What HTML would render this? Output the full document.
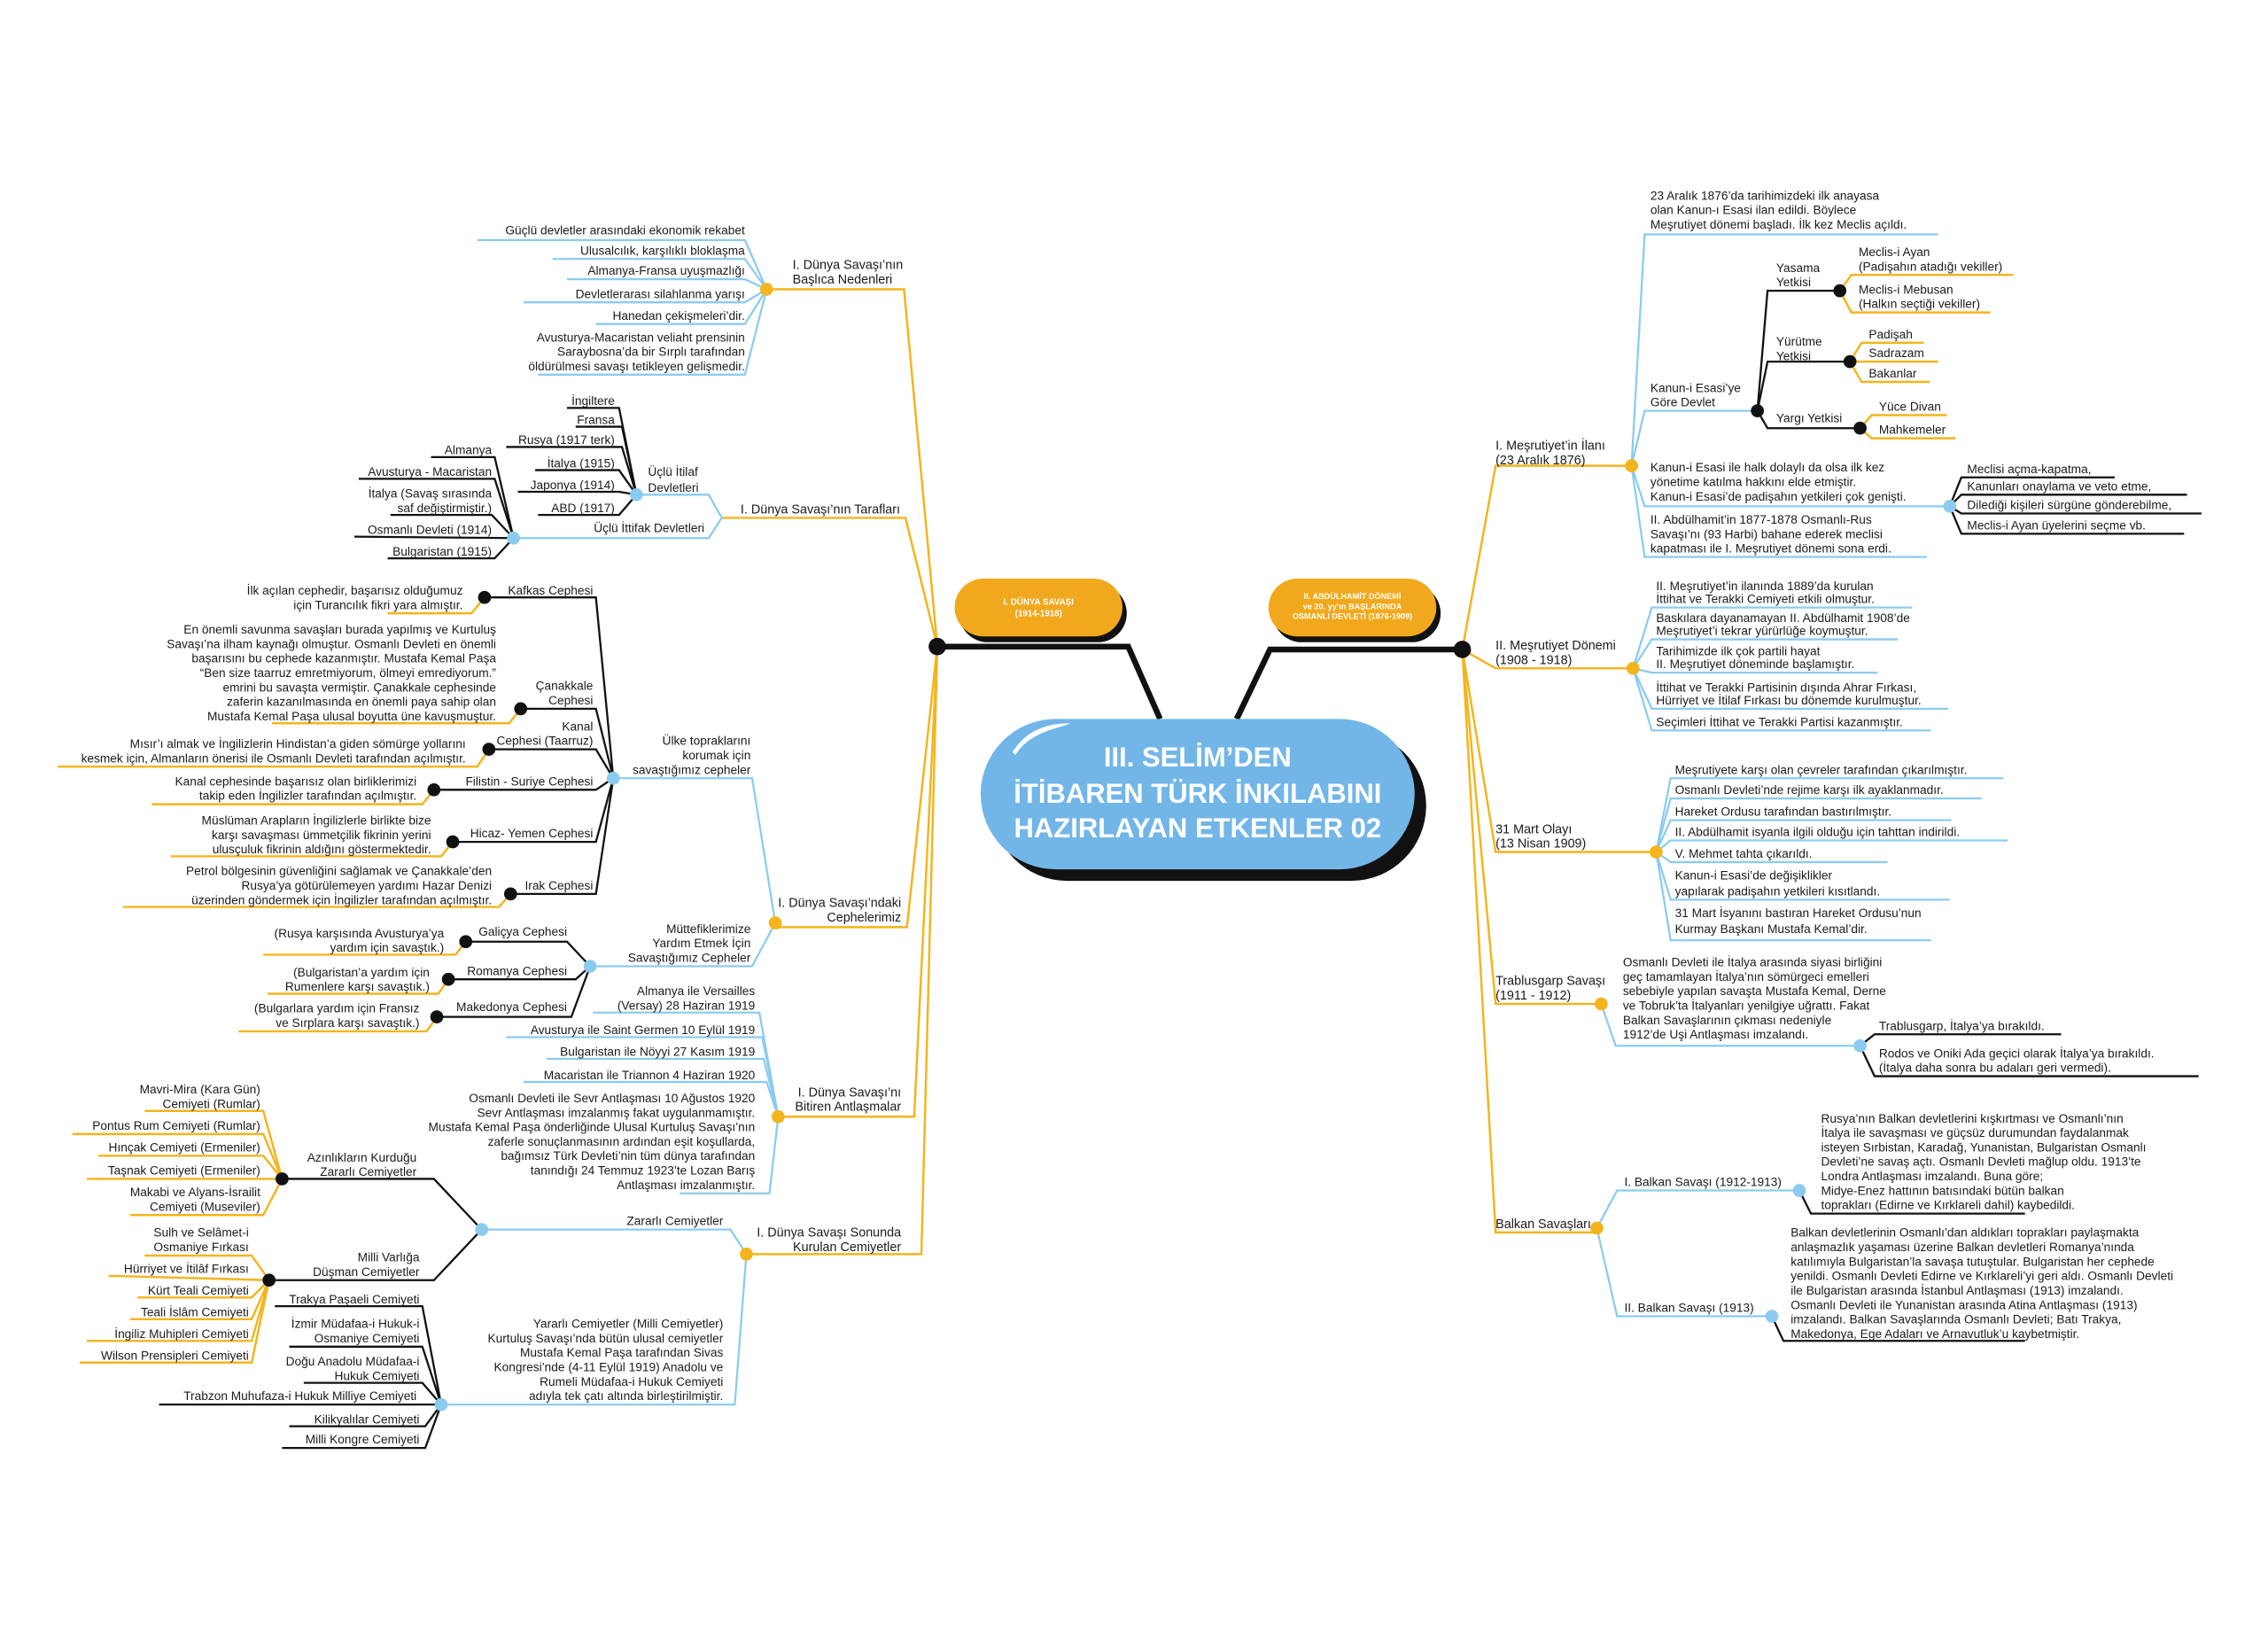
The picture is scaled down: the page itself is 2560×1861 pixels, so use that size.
<!DOCTYPE html>
<html><head><meta charset="utf-8"><style>
html,body{margin:0;padding:0;background:#fff;}
svg{display:block;}
text{font-family:"Liberation Sans",sans-serif;font-size:8.4px;fill:#1a1a1a;}
.e{text-anchor:end;}
.lb{font-size:8.8px;}
.b{fill:none;stroke:#8ccbf0;stroke-width:1.4;}
.y{fill:none;stroke:#f4b41c;stroke-width:1.5;}
.k{fill:none;stroke:#111;stroke-width:1.4;}
.dy{fill:#f4b41c;}.db{fill:#8ccbf0;}.dk{fill:#111;}
</style></head><body>
<svg width="2560" height="1861" viewBox="0 0 1568 1140" preserveAspectRatio="none" xmlns="http://www.w3.org/2000/svg">
<rect width="1568" height="1140" fill="#fff"/>
<!-- hub lines -->
<polyline points="648,447 780,447 802,497" fill="none" stroke="#111" stroke-width="4"/>
<polyline points="1011,449 878,449 855,497" fill="none" stroke="#111" stroke-width="4"/>
<!-- central pill -->
<rect x="686" y="505" width="300" height="104" rx="52" fill="#111"/>
<rect x="678" y="497" width="300" height="104" rx="52" fill="#72b6e8"/>
<path d="M700,520 Q712,500 740,500 L735,502 Q710,508 702,522 Z" fill="#fff"/>
<text x="828" y="530" text-anchor="middle" style="font-size:19px;font-weight:bold;fill:#fff">III. SELİM’DEN</text>
<text x="828" y="555" text-anchor="middle" style="font-size:19px;font-weight:bold;fill:#fff">İTİBAREN TÜRK İNKILABINI</text>
<text x="828" y="579" text-anchor="middle" style="font-size:19px;font-weight:bold;fill:#fff">HAZIRLAYAN ETKENLER 02</text>
<!-- small pills -->
<rect x="663" y="404" width="116" height="40" rx="20" fill="#111"/>
<rect x="660" y="400" width="116" height="40" rx="20" fill="#f2a81c"/>
<text x="718" y="418" text-anchor="middle" style="font-size:6px;font-weight:bold;fill:#fff">I. DÜNYA SAVAŞI</text>
<text x="718" y="426" text-anchor="middle" style="font-size:6px;font-weight:bold;fill:#fff">(1914-1918)</text>
<rect x="880" y="404" width="116" height="40" rx="20" fill="#111"/>
<rect x="877" y="400" width="116" height="40" rx="20" fill="#f2a81c"/>
<text x="935" y="414" text-anchor="middle" style="font-size:5.6px;font-weight:bold;fill:#fff">II. ABDÜLHAMİT DÖNEMİ</text>
<text x="935" y="421" text-anchor="middle" style="font-size:5.6px;font-weight:bold;fill:#fff">ve 20. yy’ın BAŞLARINDA</text>
<text x="935" y="428" text-anchor="middle" style="font-size:5.6px;font-weight:bold;fill:#fff">OSMANLI DEVLETİ (1876-1909)</text>

<!-- LEFT TRUNK -->
<polyline class="y" points="530,200 625,200 648,447"/>
<polyline class="y" points="499,358 626,358 648,447"/>
<polyline class="y" points="536,641 627,641 648,447"/>
<polyline class="y" points="538,772 632,772 648,447"/>
<polyline class="y" points="516,867 637,867 648,447"/>
<circle cx="648" cy="447" r="6" class="dk"/>

<!-- Nedenler -->
<text class="lb" x="548" y="186">I. Dünya Savaşı’nın</text>
<text class="lb" x="548" y="196">Başlıca Nedenleri</text>
<polyline class="b" points="330,166 515,166 530,200"/>
<polyline class="b" points="382,179 515,179 530,200"/>
<polyline class="b" points="392,193 515,193 530,200"/>
<polyline class="b" points="362,209 515,209 530,200"/>
<polyline class="b" points="412,224 515,224 530,200"/>
<polyline class="b" points="372,259 515,259 530,200"/>
<text class="e" x="515" y="162">Güçlü devletler arasındaki ekonomik rekabet</text>
<text class="e" x="515" y="176">Ulusalcılık, karşılıklı bloklaşma</text>
<text class="e" x="515" y="190">Almanya-Fransa uyuşmazlığı</text>
<text class="e" x="515" y="206">Devletlerarası silahlanma yarışı</text>
<text class="e" x="515" y="221">Hanedan çekişmeleri’dir.</text>
<text class="e" x="515" y="236">Avusturya-Macaristan veliaht prensinin</text>
<text class="e" x="515" y="246">Saraybosna’da bir Sırplı tarafından</text>
<text class="e" x="515" y="256">öldürülmesi savaşı tetikleyen gelişmedir.</text>
<circle cx="530" cy="200" r="4.5" class="dy"/>

<!-- Taraflar -->
<text class="lb" x="512" y="355">I. Dünya Savaşı’nın Tarafları</text>
<polyline class="b" points="440,342 490,342 499,358 490,372 355,372"/>
<text x="448" y="329">Üçlü İtilaf</text>
<text x="448" y="340">Devletleri</text>
<text class="e" x="487" y="368">Üçlü İttifak Devletleri</text>
<polyline class="k" points="392,282 428,282 440,342"/>
<polyline class="k" points="398,295 430,295 440,342"/>
<polyline class="k" points="350,309 430,309 440,342"/>
<polyline class="k" points="370,325 428,325 440,342"/>
<polyline class="k" points="358,340 428,340 440,342"/>
<polyline class="k" points="372,356 428,356 440,342"/>
<text class="e" x="425" y="280">İngiltere</text>
<text class="e" x="425" y="293">Fransa</text>
<text class="e" x="425" y="307">Rusya (1917 terk)</text>
<text class="e" x="425" y="323">İtalya (1915)</text>
<text class="e" x="425" y="338">Japonya (1914)</text>
<text class="e" x="425" y="354">ABD (1917)</text>
<circle cx="440" cy="342" r="4.5" class="db"/>
<polyline class="k" points="298,316 342,316 355,372"/>
<polyline class="k" points="248,331 342,331 355,372"/>
<polyline class="k" points="270,356 340,356 355,372"/>
<polyline class="k" points="245,371 355,372"/>
<polyline class="k" points="268,386 342,386 355,372"/>
<text class="e" x="340" y="314">Almanya</text>
<text class="e" x="340" y="329">Avusturya - Macaristan</text>
<text class="e" x="340" y="344">İtalya (Savaş sırasında</text>
<text class="e" x="340" y="354">saf değiştirmiştir.)</text>
<text class="e" x="340" y="369">Osmanlı Devleti (1914)</text>
<text class="e" x="340" y="384">Bulgaristan (1915)</text>
<circle cx="355" cy="372" r="4.5" class="db"/>

<!-- Cepheler -->
<text class="lb" x="623" y="627" text-anchor="end">I. Dünya Savaşı’ndaki</text>
<text class="lb" x="623" y="637" text-anchor="end">Cephelerimiz</text>
<polyline class="b" points="424,538 520,538 536,638 520,668 408,668"/>
<text class="e" x="519" y="515">Ülke topraklarını</text>
<text class="e" x="519" y="525">korumak için</text>
<text class="e" x="519" y="535">savaştığımız cepheler</text>
<text class="e" x="519" y="645">Müttefiklerimize</text>
<text class="e" x="519" y="655">Yardım Etmek İçin</text>
<text class="e" x="519" y="665">Savaştığımız Cepheler</text>
<polyline class="k" points="335,413 412,413 424,538"/>
<polyline class="k" points="360,490 412,490 424,538"/>
<polyline class="k" points="338,518 412,518 424,538"/>
<polyline class="k" points="300,546 412,546 424,538"/>
<polyline class="k" points="313,582 412,582 424,538"/>
<polyline class="k" points="353,618 412,618 424,538"/>
<text class="e" x="410" y="411">Kafkas Cephesi</text>
<text class="e" x="410" y="477">Çanakkale</text>
<text class="e" x="410" y="487">Cephesi</text>
<text class="e" x="410" y="505">Kanal</text>
<text class="e" x="410" y="515">Cephesi (Taarruz)</text>
<text class="e" x="410" y="543">Filistin - Suriye Cephesi</text>
<text class="e" x="410" y="579">Hicaz- Yemen Cephesi</text>
<text class="e" x="410" y="615">Irak Cephesi</text>
<polyline class="y" points="268,424 326,424 335,413"/>
<polyline class="y" points="188,500 352,500 360,490"/>
<polyline class="y" points="40,530 330,530 338,518"/>
<polyline class="y" points="105,556 292,556 300,546"/>
<polyline class="y" points="118,592 305,592 313,582"/>
<polyline class="y" points="85,627 345,627 353,618"/>
<text class="e" x="320" y="411">İlk açılan cephedir, başarısız olduğumuz</text>
<text class="e" x="320" y="421">için Turancılık fikri yara almıştır.</text>
<text class="e" x="343" y="438">En önemli savunma savaşları burada yapılmış ve Kurtuluş</text>
<text class="e" x="343" y="448">Savaşı’na ilham kaynağı olmuştur. Osmanlı Devleti en önemli</text>
<text class="e" x="343" y="458">başarısını bu cephede kazanmıştır. Mustafa Kemal Paşa</text>
<text class="e" x="343" y="468">“Ben size taarruz emretmiyorum, ölmeyi emrediyorum.”</text>
<text class="e" x="343" y="478">emrini bu savaşta vermiştir. Çanakkale cephesinde</text>
<text class="e" x="343" y="488">zaferin kazanılmasında en önemli paya sahip olan</text>
<text class="e" x="343" y="498">Mustafa Kemal Paşa ulusal boyutta üne kavuşmuştur.</text>
<text class="e" x="322" y="517">Mısır’ı almak ve İngilizlerin Hindistan’a giden sömürge yollarını</text>
<text class="e" x="322" y="527">kesmek için, Almanların önerisi ile Osmanlı Devleti tarafından açılmıştır.</text>
<text class="e" x="288" y="543">Kanal cephesinde başarısız olan birliklerimizi</text>
<text class="e" x="288" y="553">takip eden İngilizler tarafından açılmıştır.</text>
<text class="e" x="298" y="570">Müslüman Arapların İngilizlerle birlikte bize</text>
<text class="e" x="298" y="580">karşı savaşması ümmetçilik fikrinin yerini</text>
<text class="e" x="298" y="590">ulusçuluk fikrinin aldığını göstermektedir.</text>
<text class="e" x="340" y="605">Petrol bölgesinin güvenliğini sağlamak ve Çanakkale’den</text>
<text class="e" x="340" y="615">Rusya’ya götürülemeyen yardımı Hazar Denizi</text>
<text class="e" x="340" y="625">üzerinden göndermek için İngilizler tarafından açılmıştır.</text>
<circle cx="335" cy="413" r="4.5" class="dk"/><circle cx="360" cy="490" r="4.5" class="dk"/>
<circle cx="338" cy="518" r="4.5" class="dk"/><circle cx="300" cy="546" r="4.5" class="dk"/>
<circle cx="313" cy="582" r="4.5" class="dk"/><circle cx="353" cy="618" r="4.5" class="dk"/>
<circle cx="424" cy="538" r="4.5" class="db"/>
<polyline class="k" points="322,651 392,651 408,668"/>
<polyline class="k" points="310,677 398,677 408,668"/>
<polyline class="k" points="302,703 395,703 408,668"/>
<text class="e" x="392" y="647">Galiçya Cephesi</text>
<text class="e" x="392" y="674">Romanya Cephesi</text>
<text class="e" x="392" y="699">Makedonya Cephesi</text>
<polyline class="y" points="182,660 315,660 322,651"/>
<polyline class="y" points="185,687 303,687 310,677"/>
<polyline class="y" points="165,713 295,713 302,703"/>
<text class="e" x="307" y="648">(Rusya karşısında Avusturya’ya</text>
<text class="e" x="307" y="658">yardım için savaştık.)</text>
<text class="e" x="297" y="675">(Bulgaristan’a yardım için</text>
<text class="e" x="297" y="685">Rumenlere karşı savaştık.)</text>
<text class="e" x="290" y="700">(Bulgarlara yardım için Fransız</text>
<text class="e" x="290" y="710">ve Sırplara karşı savaştık.)</text>
<circle cx="322" cy="651" r="4.5" class="dk"/><circle cx="310" cy="677" r="4.5" class="dk"/><circle cx="302" cy="703" r="4.5" class="dk"/>
<circle cx="408" cy="668" r="4.5" class="db"/>
<circle cx="536" cy="638" r="4.5" class="dy"/>

<!-- Antlaşmalar -->
<text class="lb" x="623" y="758" text-anchor="end">I. Dünya Savaşı’nı</text>
<text class="lb" x="623" y="768" text-anchor="end">Bitiren Antlaşmalar</text>
<polyline class="b" points="410,700 525,700 538,772"/>
<polyline class="b" points="350,717 527,717 538,772"/>
<polyline class="b" points="378,732 528,732 538,772"/>
<polyline class="b" points="362,748 530,748 538,772"/>
<polyline class="b" points="470,825 532,825 538,772"/>
<text class="e" x="522" y="688">Almanya ile Versailles</text>
<text class="e" x="522" y="698">(Versay) 28 Haziran 1919</text>
<text class="e" x="522" y="715">Avusturya ile  Saint Germen 10 Eylül 1919</text>
<text class="e" x="522" y="730">Bulgaristan ile Nöyyi 27 Kasım 1919</text>
<text class="e" x="522" y="746">Macaristan ile Triannon  4 Haziran 1920</text>
<text class="e" x="522" y="762">Osmanlı Devleti ile  Sevr Antlaşması 10 Ağustos 1920</text>
<text class="e" x="522" y="772">Sevr Antlaşması imzalanmış fakat uygulanmamıştır.</text>
<text class="e" x="522" y="782">Mustafa Kemal Paşa önderliğinde Ulusal Kurtuluş Savaşı’nın</text>
<text class="e" x="522" y="792">zaferle sonuçlanmasının ardından eşit koşullarda,</text>
<text class="e" x="522" y="802">bağımsız Türk Devleti’nin tüm dünya tarafından</text>
<text class="e" x="522" y="812">tanındığı 24 Temmuz 1923’te Lozan Barış</text>
<text class="e" x="522" y="822">Antlaşması imzalanmıştır.</text>
<circle cx="538" cy="772" r="4.5" class="dy"/>

<!-- Cemiyetler -->
<text class="lb" x="623" y="855" text-anchor="end">I. Dünya Savaşı Sonunda</text>
<text class="lb" x="623" y="865" text-anchor="end">Kurulan Cemiyetler</text>
<polyline class="b" points="333,850 505,850 516,867 508,971 305,971"/>
<text class="e" x="500" y="847">Zararlı Cemiyetler</text>
<polyline class="k" points="195,815 300,815 333,850 300,885 186,885"/>
<text class="e" x="288" y="803">Azınlıkların Kurduğu</text>
<text class="e" x="288" y="813">Zararlı Cemiyetler</text>
<text class="e" x="290" y="872">Milli Varlığa</text>
<text class="e" x="290" y="882">Düşman Cemiyetler</text>
<polyline class="y" points="100,768 182,768 195,815"/>
<polyline class="y" points="50,784 182,784 195,815"/>
<polyline class="y" points="68,799 182,799 195,815"/>
<polyline class="y" points="60,815 195,815"/>
<polyline class="y" points="90,840 182,840 195,815"/>
<text class="e" x="180" y="756">Mavri-Mira (Kara Gün)</text>
<text class="e" x="180" y="766">Cemiyeti (Rumlar)</text>
<text class="e" x="180" y="781">Pontus Rum Cemiyeti (Rumlar)</text>
<text class="e" x="180" y="796">Hınçak Cemiyeti (Ermeniler)</text>
<text class="e" x="180" y="812">Taşnak Cemiyeti (Ermeniler)</text>
<text class="e" x="180" y="827">Makabi ve Alyans-İsrailit</text>
<text class="e" x="180" y="837">Cemiyeti (Museviler)</text>
<circle cx="195" cy="815" r="4.5" class="dk"/>
<polyline class="y" points="100,868 174,868 186,885"/>
<polyline class="y" points="75,882 186,885"/>
<polyline class="y" points="95,897 174,897 186,885"/>
<polyline class="y" points="90,912 174,912 186,885"/>
<polyline class="y" points="60,927 174,927 186,885"/>
<polyline class="y" points="55,942 174,942 186,885"/>
<text class="e" x="172" y="855">Sulh ve Selâmet-i</text>
<text class="e" x="172" y="865">Osmaniye Fırkası</text>
<text class="e" x="172" y="880">Hürriyet ve İtilâf Fırkası</text>
<text class="e" x="172" y="895">Kürt Teali Cemiyeti</text>
<text class="e" x="172" y="910">Teali İslâm Cemiyeti</text>
<text class="e" x="172" y="925">İngiliz Muhipleri Cemiyeti</text>
<text class="e" x="172" y="940">Wilson Prensipleri Cemiyeti</text>
<circle cx="186" cy="885" r="4.5" class="dk"/>
<circle cx="333" cy="850" r="4.5" class="db"/>
<text class="e" x="500" y="918">Yararlı Cemiyetler (Milli Cemiyetler)</text>
<text class="e" x="500" y="928">Kurtuluş Savaşı’nda bütün ulusal cemiyetler</text>
<text class="e" x="500" y="938">Mustafa Kemal Paşa tarafından Sivas</text>
<text class="e" x="500" y="948">Kongresi’nde (4-11 Eylül 1919) Anadolu ve</text>
<text class="e" x="500" y="958">Rumeli Müdafaa-i Hukuk Cemiyeti</text>
<text class="e" x="500" y="968">adıyla tek çatı altında birleştirilmiştir.</text>
<polyline class="k" points="190,903 292,903 305,971"/>
<polyline class="k" points="200,931 292,931 305,971"/>
<polyline class="k" points="210,956 292,956 305,971"/>
<polyline class="k" points="110,971 305,971"/>
<polyline class="k" points="200,986 294,986 305,971"/>
<polyline class="k" points="195,1001 294,1001 305,971"/>
<text class="e" x="290" y="901">Trakya Paşaeli Cemiyeti</text>
<text class="e" x="290" y="918">İzmir Müdafaa-i Hukuk-i</text>
<text class="e" x="290" y="928">Osmaniye Cemiyeti</text>
<text class="e" x="290" y="944">Doğu Anadolu Müdafaa-i</text>
<text class="e" x="290" y="954">Hukuk Cemiyeti</text>
<text class="e" x="288" y="968">Trabzon Muhufaza-i Hukuk Milliye Cemiyeti</text>
<text class="e" x="290" y="984">Kilikyalılar Cemiyeti</text>
<text class="e" x="290" y="998">Milli Kongre Cemiyeti</text>
<circle cx="305" cy="971" r="4.5" class="db"/>
<circle cx="516" cy="867" r="4.5" class="dy"/>

<!-- RIGHT TRUNK -->
<polyline class="y" points="1011,449 1034,322 1128,322"/>
<polyline class="y" points="1011,449 1034,462 1129,462"/>
<polyline class="y" points="1011,449 1034,589 1145,589"/>
<polyline class="y" points="1011,449 1034,694 1107,694"/>
<polyline class="y" points="1011,449 1034,852 1104,852"/>
<circle cx="1011" cy="449" r="6" class="dk"/>

<!-- I. Meşrutiyet -->
<text class="lb" x="1034" y="311">I. Meşrutiyet’in İlanı</text>
<text class="lb" x="1034" y="321">(23 Aralık 1876)</text>
<polyline class="b" points="1340,162 1137,162 1128,322"/>
<polyline class="b" points="1215,284 1137,284 1128,322"/>
<polyline class="b" points="1348,350 1137,350 1128,322"/>
<polyline class="b" points="1332,385 1137,385 1128,322"/>
<text x="1141" y="138">23 Aralık 1876’da tarihimizdeki ilk anayasa</text>
<text x="1141" y="148">olan Kanun-ı Esasi ilan edildi. Böylece</text>
<text x="1141" y="158">Meşrutiyet dönemi başladı. İlk kez Meclis açıldı.</text>
<text x="1141" y="271">Kanun-i Esasi’ye</text>
<text x="1141" y="281">Göre Devlet</text>
<polyline class="k" points="1215,284 1222,201 1272,201"/>
<polyline class="k" points="1215,284 1222,250 1279,250"/>
<polyline class="k" points="1215,284 1222,296 1286,296"/>
<text x="1228" y="188">Yasama</text>
<text x="1228" y="198">Yetkisi</text>
<text x="1228" y="239">Yürütme</text>
<text x="1228" y="249">Yetkisi</text>
<text x="1228" y="292">Yargı Yetkisi</text>
<polyline class="y" points="1272,201 1280,190 1392,190"/>
<polyline class="y" points="1272,201 1280,216 1376,216"/>
<text x="1285" y="177">Meclis-i Ayan</text>
<text x="1285" y="187">(Padişahın atadığı vekiller)</text>
<text x="1285" y="203">Meclis-i Mebusan</text>
<text x="1285" y="213">(Halkın seçtiği vekiller)</text>
<polyline class="y" points="1279,250 1287,237 1330,237"/>
<polyline class="y" points="1279,250 1340,250"/>
<polyline class="y" points="1279,250 1287,264 1334,264"/>
<text x="1292" y="234">Padişah</text>
<text x="1292" y="247">Sadrazam</text>
<text x="1292" y="261">Bakanlar</text>
<polyline class="y" points="1286,296 1294,287 1346,287"/>
<polyline class="y" points="1286,296 1294,303 1352,303"/>
<text x="1299" y="284">Yüce Divan</text>
<text x="1299" y="300">Mahkemeler</text>
<circle cx="1272" cy="201" r="4.5" class="dk"/><circle cx="1279" cy="250" r="4.5" class="dk"/>
<circle cx="1286" cy="296" r="4.5" class="dk"/><circle cx="1215" cy="284" r="4.5" class="dk"/>
<text x="1141" y="326">Kanun-i Esasi ile halk dolaylı da olsa ilk kez</text>
<text x="1141" y="336">yönetime katılma hakkını elde etmiştir.</text>
<text x="1141" y="346">Kanun-i Esasi’de padişahın yetkileri çok genişti.</text>
<text x="1141" y="362">II. Abdülhamit’in 1877-1878 Osmanlı-Rus</text>
<text x="1141" y="372">Savaşı’nı (93 Harbi) bahane ederek meclisi</text>
<text x="1141" y="382">kapatması ile I. Meşrutiyet dönemi sona erdi.</text>
<polyline class="k" points="1348,350 1356,330 1462,330"/>
<polyline class="k" points="1348,350 1356,342 1512,342"/>
<polyline class="k" points="1348,350 1356,355 1522,355"/>
<polyline class="k" points="1348,350 1356,369 1510,369"/>
<text x="1360" y="327">Meclisi açma-kapatma,</text>
<text x="1360" y="339">Kanunları onaylama ve veto etme,</text>
<text x="1360" y="352">Dilediği kişileri sürgüne gönderebilme,</text>
<text x="1360" y="366">Meclis-i Ayan üyelerini seçme vb.</text>
<circle cx="1348" cy="350" r="4.5" class="db"/>
<circle cx="1128" cy="322" r="4.5" class="dy"/>

<!-- II. Meşrutiyet -->
<text class="lb" x="1034" y="449">II. Meşrutiyet Dönemi</text>
<text class="lb" x="1034" y="459">(1908 - 1918)</text>
<polyline class="b" points="1129,462 1142,420 1322,420"/>
<polyline class="b" points="1129,462 1142,442 1312,442"/>
<polyline class="b" points="1129,462 1142,465 1298,465"/>
<polyline class="b" points="1129,462 1142,490 1347,490"/>
<polyline class="b" points="1129,462 1142,505 1335,505"/>
<text x="1145" y="408">II. Meşrutiyet’in ilanında 1889’da kurulan</text>
<text x="1145" y="417">İttihat ve Terakki Cemiyeti etkili olmuştur.</text>
<text x="1145" y="430">Baskılara dayanamayan II. Abdülhamit 1908’de</text>
<text x="1145" y="439">Meşrutiyet’i tekrar yürürlüğe koymuştur.</text>
<text x="1145" y="453">Tarihimizde ilk çok partili hayat</text>
<text x="1145" y="462">II. Meşrutiyet döneminde başlamıştır.</text>
<text x="1145" y="478">İttihat ve Terakki Partisinin dışında Ahrar Fırkası,</text>
<text x="1145" y="487">Hürriyet ve İtilaf Fırkası bu dönemde kurulmuştur.</text>
<text x="1145" y="502">Seçimleri İttihat ve Terakki  Partisi kazanmıştır.</text>
<circle cx="1129" cy="462" r="4.5" class="dy"/>

<!-- 31 Mart -->
<text class="lb" x="1034" y="576">31 Mart Olayı</text>
<text class="lb" x="1034" y="586">(13 Nisan 1909)</text>
<polyline class="b" points="1145,589 1155,538 1385,538"/>
<polyline class="b" points="1145,589 1155,552 1370,552"/>
<polyline class="b" points="1145,589 1155,567 1349,567"/>
<polyline class="b" points="1145,589 1155,581 1388,581"/>
<polyline class="b" points="1145,589 1155,596 1305,596"/>
<polyline class="b" points="1145,589 1155,622 1348,622"/>
<polyline class="b" points="1145,589 1155,650 1335,650"/>
<text x="1158" y="535">Meşrutiyete karşı olan çevreler tarafından çıkarılmıştır.</text>
<text x="1158" y="549">Osmanlı Devleti’nde rejime karşı ilk ayaklanmadır.</text>
<text x="1158" y="564">Hareket Ordusu tarafından bastırılmıştır.</text>
<text x="1158" y="578">II. Abdülhamit isyanla ilgili olduğu için tahttan indirildi.</text>
<text x="1158" y="593">V. Mehmet tahta çıkarıldı.</text>
<text x="1158" y="608">Kanun-i Esasi’de değişiklikler</text>
<text x="1158" y="619">yapılarak padişahın yetkileri kısıtlandı.</text>
<text x="1158" y="634">31 Mart İsyanını bastıran Hareket Ordusu’nun</text>
<text x="1158" y="645">Kurmay Başkanı Mustafa Kemal’dir.</text>
<circle cx="1145" cy="589" r="4.5" class="dy"/>

<!-- Trablusgarp -->
<text class="lb" x="1034" y="681">Trablusgarp Savaşı</text>
<text class="lb" x="1034" y="691">(1911 - 1912)</text>
<polyline class="b" points="1107,694 1117,723 1286,723"/>
<text x="1122" y="668">Osmanlı Devleti ile İtalya arasında siyasi birliğini</text>
<text x="1122" y="678">geç tamamlayan İtalya’nın sömürgeci emelleri</text>
<text x="1122" y="688">sebebiyle yapılan savaşta Mustafa Kemal, Derne</text>
<text x="1122" y="698">ve Tobruk’ta İtalyanları yenilgiye uğrattı. Fakat</text>
<text x="1122" y="708">Balkan Savaşlarının çıkması nedeniyle</text>
<text x="1122" y="718">1912’de Uşi Antlaşması imzalandı.</text>
<polyline class="k" points="1286,723 1296,715 1425,715"/>
<polyline class="k" points="1286,723 1296,744 1520,744"/>
<text x="1299" y="712">Trablusgarp, İtalya’ya bırakıldı.</text>
<text x="1299" y="731">Rodos ve Oniki Ada geçici olarak İtalya’ya bırakıldı.</text>
<text x="1299" y="741">(İtalya daha sonra bu adaları geri vermedi).</text>
<circle cx="1286" cy="723" r="4.5" class="db"/>
<circle cx="1107" cy="694" r="4.5" class="dy"/>

<!-- Balkan -->
<text class="lb" x="1034" y="849">Balkan Savaşları</text>
<polyline class="b" points="1244,823 1118,823 1104,849 1118,910 1225,910"/>
<text x="1123" y="820">I. Balkan Savaşı (1912-1913)</text>
<text x="1123" y="907">II. Balkan Savaşı (1913)</text>
<polyline class="k" points="1244,823 1252,839 1400,839"/>
<polyline class="k" points="1225,910 1233,927 1400,927"/>
<text x="1259" y="776">Rusya’nın Balkan devletlerini kışkırtması ve Osmanlı’nın</text>
<text x="1259" y="786">İtalya ile savaşması ve güçsüz durumundan faydalanmak</text>
<text x="1259" y="796">isteyen  Sırbistan, Karadağ, Yunanistan, Bulgaristan Osmanlı</text>
<text x="1259" y="806">Devleti’ne savaş açtı. Osmanlı Devleti mağlup oldu. 1913’te</text>
<text x="1259" y="816">Londra Antlaşması imzalandı. Buna göre;</text>
<text x="1259" y="826">Midye-Enez hattının batısındaki bütün balkan</text>
<text x="1259" y="836">toprakları (Edirne ve Kırklareli dahil) kaybedildi.</text>
<text x="1238" y="855">Balkan devletlerinin Osmanlı’dan aldıkları toprakları paylaşmakta</text>
<text x="1238" y="865">anlaşmazlık yaşaması üzerine Balkan devletleri Romanya’nında</text>
<text x="1238" y="875">katılımıyla Bulgaristan’la savaşa tutuştular. Bulgaristan her cephede</text>
<text x="1238" y="885">yenildi. Osmanlı Devleti Edirne ve Kırklareli’yi geri aldı. Osmanlı Devleti</text>
<text x="1238" y="895">ile Bulgaristan arasında İstanbul Antlaşması (1913) imzalandı.</text>
<text x="1238" y="905">Osmanlı Devleti ile Yunanistan arasında Atina Antlaşması (1913)</text>
<text x="1238" y="915">imzalandı. Balkan Savaşlarında Osmanlı Devleti; Batı Trakya,</text>
<text x="1238" y="925">Makedonya, Ege Adaları ve Arnavutluk’u kaybetmiştir.</text>
<circle cx="1244" cy="823" r="4.5" class="db"/><circle cx="1225" cy="910" r="4.5" class="db"/>
<circle cx="1104" cy="849" r="4.5" class="dy"/>
</svg>
</body></html>
